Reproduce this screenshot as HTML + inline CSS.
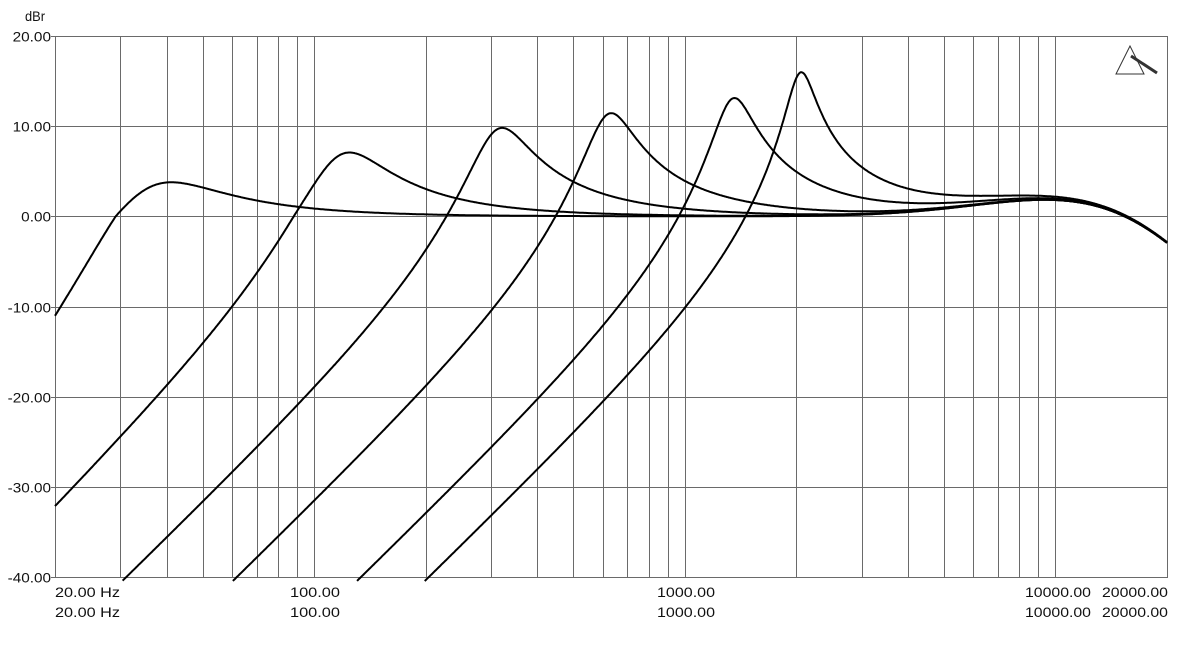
<!DOCTYPE html>
<html><head><meta charset="utf-8"><style>
html,body{margin:0;padding:0;background:#fff;}
svg{display:block;}
text{font-family:"Liberation Sans",sans-serif;font-size:14px;fill:#111;}
</style></head><body>
<svg id="s" width="1183" height="647" viewBox="0 0 1183 647" xmlns="http://www.w3.org/2000/svg">
<g id="grid" stroke="#6a6a6a" stroke-width="1" fill="none"></g>
<g id="curves" stroke="#000" stroke-width="2" fill="none"></g>
<g id="labels"></g>
<g stroke="#333" fill="none" stroke-width="1">
<polygon points="1130,46 1116,74 1144,74"/>
<line x1="1131" y1="56" x2="1157" y2="73" stroke-width="3"/>
</g>
</svg>
<script>
var L=55,R=1167,T=36,B=577;
function X(f){return L+(Math.log10(f/20)/3)*(R-L);}
function Y(d){return T+(20-d)*(B-T)/60;}
var ns="http://www.w3.org/2000/svg",g=document.getElementById('grid'),c=document.getElementById('curves'),lb=document.getElementById('labels');
function el(p,t,a,txt){var e=document.createElementNS(ns,t);for(var k in a)e.setAttribute(k,a[k]);if(txt)e.textContent=txt;p.appendChild(e);return e;}
function tw(s){var n=0;for(var i=0;i<s.length;i++){var ch=s[i];n+=(ch=='.'||ch==' ')?4:(ch=='-'?5:8.6);}return n;}
var fs=[];for(var dec=10;dec<=10000;dec*=10)for(var m=1;m<10;m++){var f=dec*m;if(f>20&&f<20000)fs.push(f);}
fs.forEach(function(f){var x=Math.round(X(f))+0.5;el(g,'line',{x1:x,y1:T,x2:x,y2:B});});
for(var d=20;d>=-40;d-=10){var y=Math.round(Y(d))+0.5;el(g,'line',{x1:L-4,y1:y,x2:R,y2:y});
var s=d.toFixed(2);el(lb,'text',{x:51,y:y+5,'text-anchor':'end',textLength:tw(s),lengthAdjust:'spacingAndGlyphs'},s);}
el(g,'rect',{x:L+0.5,y:T+0.5,width:R-L,height:B-T});
el(lb,'text',{x:25,y:21,textLength:20,lengthAdjust:'spacingAndGlyphs'},'dBr');
[[55,'start','20.00 Hz',65],[315,'middle','100.00',50],[686,'middle','1000.00',58],[1058,'middle','10000.00',66],[1168,'end','20000.00',66]].forEach(function(a){
el(lb,'text',{x:a[0],y:597,'text-anchor':a[1],textLength:a[3],lengthAdjust:'spacingAndGlyphs'},a[2]);el(lb,'text',{x:a[0],y:617,'text-anchor':a[1],textLength:a[3],lengthAdjust:'spacingAndGlyphs'},a[2]);});
function glob(f){var b=2.4*Math.exp(-Math.pow(Math.log10(f/12000)/0.38,2));var lp=-10*Math.log10(1+Math.pow(f/17000,4));return b+lp;}
var P=[[36,1.45,1.35],[118,2.2,1.05],[313,3.05,1.0],[622,3.7,1.0],[1345,4.5,1.0],[2050,6.25,1.0]];
P.forEach(function(p){var f0=p[0],Q=p[1],k=p[2],pts=[];
for(var i=0;i<=1200;i++){var f=20*Math.pow(1000,i/1200),r=f/f0;
var h=r*r/Math.sqrt(Math.pow(1-r*r,2)+Math.pow(r/Q,2));var db=20*Math.log10(h);if(db<0)db*=k;db+=glob(f);
if(db<-40.5){continue;}pts.push(X(f).toFixed(1)+','+Y(db).toFixed(1));}
el(c,'polyline',{points:pts.join(' ')});});
</script>
</body></html>
